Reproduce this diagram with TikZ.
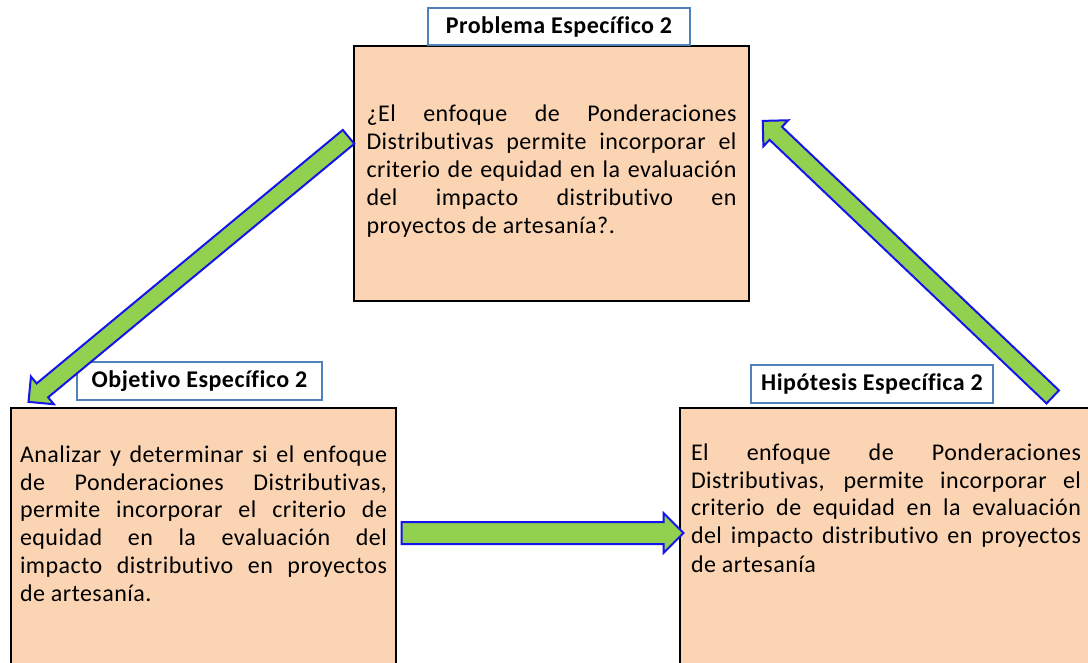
\documentclass[tikz,border=0pt]{standalone}
\usepackage{fontspec}
\setmainfont{Carlito}[LetterSpace=2,Ligatures=NoCommon]
\usetikzlibrary{shapes.arrows,calc}
\definecolor{peach}{RGB}{251,212,180}
\definecolor{leaf_green}{RGB}{146,208,80}
\definecolor{title_blue}{RGB}{79,129,189}
\definecolor{arrow_blue}{RGB}{20,20,235}
\tolerance=10000
\hbadness=10000

\tikzset{
	caja/.style={draw=black,line width=1pt,fill=peach,anchor=north west,align=justify,inner ysep=3pt,font=\fontsize{12}{14}\selectfont},
	titulo/.style={draw=title_blue,line width=0.8pt,fill=white,inner sep=0pt,font=\fontsize{12}{14}\selectfont\bfseries},
	flecha/.style={single arrow,draw=arrow_blue,line width=1pt,fill=leaf_green,inner xsep=0pt,single arrow head extend=4.5pt,single arrow head indent=0pt}
}

% block arrow from #1 to #2, half shaft width #3 (pt)
\newcommand{\flechabloque}[3]{%
	\path let \p3=($(#2)-(#1)$), \n1={atan2(\y3,\x3)}, \n2={veclen(\x3,\y3)} in
		($(#1)!0.5!(#2)$) node[flecha,inner ysep=#3pt,minimum height=\n2,rotate=\n1] {}}

\begin{document}
\begin{tikzpicture}[x=0.5pt,y=-0.5pt]
	\useasboundingbox (0,0) rectangle (1088,663);
	\clip (0,0) rectangle (1088,663);

	\node[caja,inner xsep=6.25pt,text width=185pt,text height=35pt,text depth=86.5pt] (prob) at (353,45) {¿El enfoque de Ponderaciones\linebreak Distributivas permite incorporar el\linebreak criterio de equidad en la evaluación\linebreak del impacto distributivo en\linebreak proyectos de artesanía?.};
	\node[caja,inner xsep=4.5pt,text width=183.5pt,text height=24pt,text depth=140pt] (obj) at (10,407) {Analizar y determinar si el enfoque\linebreak de Ponderaciones Distributivas,\linebreak permite incorporar el criterio de\linebreak equidad en la evaluación del\linebreak impacto distributivo en proyectos\linebreak de artesanía.};
	\node[caja,inner xsep=5.5pt,text width=195pt,text height=23pt,text depth=140pt] (hip) at (679,407) {El enfoque de Ponderaciones\linebreak Distributivas, permite incorporar el\linebreak criterio de equidad en la evaluación\linebreak del impacto distributivo en proyectos\linebreak de artesanía};

	\node[titulo,minimum width=131pt,minimum height=18.5pt] (tprob) at (559,26.5) {Problema Específico 2};
	\node[titulo,minimum width=122.5pt,minimum height=19pt] (tobj) at (199.5,381) {Objetivo Específico 2};
	\node[titulo,minimum width=121pt,minimum height=19pt] (thip) at (872,384) {Hipótesis Específica 2};

	\coordinate (s1) at (352,134);
	\coordinate (e1) at (32,399);
	\coordinate (s2) at (396,533);
	\coordinate (e2) at (678,533);
	\coordinate (s3) at (1056,400);
	\coordinate (e3) at (766,124);

	\foreach \a/\b/\w in {s1/e1/4,s2/e2/5,s3/e3/4}
		\flechabloque{\a}{\b}{\w};
\end{tikzpicture}
\end{document}
